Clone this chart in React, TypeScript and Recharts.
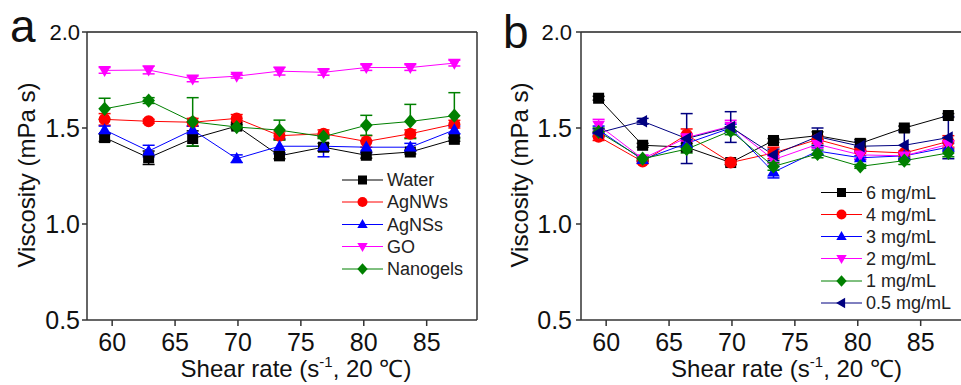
import { ErrorBar, Line, LineChart, ReferenceLine, XAxis, YAxis } from "recharts";

const FONT = "'Liberation Sans', Arial, sans-serif";

// shear rate (s-1), same for both panels
const shearRates = [59.4, 62.9, 66.4, 69.9, 73.3, 76.8, 80.2, 83.7, 87.2];
const xTicks = [60, 65, 70, 75, 80, 85];
const yTicks = [0.5, 1.0, 1.5, 2.0];

// panel a : viscosity of the different fluids
const water = [1.45, 1.345, 1.445, 1.51, 1.355, 1.4, 1.358, 1.375, 1.441];
const waterErr = [0.02, 0.035, 0.04, 0.01, 0.015, 0.02, 0.015, 0.01, 0.01];
const agNWs = [1.545, 1.535, 1.53, 1.55, 1.46, 1.47, 1.43, 1.47, 1.52];
const agNWsErr = [0.03, 0.01, 0.02, 0.02, 0.02, 0.02, 0.03, 0.02, 0.02];
const agNSs = [1.49, 1.38, 1.49, 1.34, 1.405, 1.405, 1.4, 1.4, 1.49];
const agNSsErr = [0.02, 0.03, 0.02, 0.02, 0.04, 0.055, 0.03, 0.02, 0.02];
const go = [1.8, 1.802, 1.756, 1.77, 1.796, 1.79, 1.815, 1.815, 1.838];
const goErr = [0.015, 0.02, 0.015, 0.01, 0.02, 0.015, 0.015, 0.015, 0.015];
const nanogels = [1.6, 1.643, 1.532, 1.505, 1.489, 1.455, 1.514, 1.534, 1.564];
const nanogelsErr = [0.055, 0.015, 0.126, 0.01, 0.052, 0.01, 0.052, 0.089, 0.12];

// panel b : nanogel concentration
const mg6 = [1.655, 1.41, 1.4, 1.32, 1.435, 1.46, 1.42, 1.5, 1.565];
const mg6Err = [0.01, 0.01, 0.02, 0.01, 0.01, 0.02, 0.02, 0.01, 0.01];
const mg4 = [1.455, 1.325, 1.465, 1.32, 1.37, 1.44, 1.38, 1.37, 1.43];
const mg4Err = [0.02, 0.01, 0.03, 0.01, 0.03, 0.02, 0.01, 0.01, 0.03];
const mg3 = [1.49, 1.335, 1.42, 1.5, 1.27, 1.38, 1.345, 1.355, 1.4];
const mg3Err = [0.02, 0.01, 0.02, 0.02, 0.03, 0.02, 0.01, 0.02, 0.02];
const mg2 = [1.515, 1.34, 1.45, 1.51, 1.335, 1.415, 1.36, 1.355, 1.415];
const mg2Err = [0.03, 0.01, 0.02, 0.03, 0.02, 0.02, 0.02, 0.01, 0.02];
const mg1 = [1.48, 1.34, 1.39, 1.485, 1.3, 1.365, 1.3, 1.33, 1.37];
const mg1Err = [0.02, 0.01, 0.02, 0.02, 0.02, 0.02, 0.01, 0.02, 0.02];
const mg05 = [1.475, 1.535, 1.445, 1.505, 1.36, 1.455, 1.405, 1.41, 1.45];
const mg05Err = [0.02, 0.015, 0.13, 0.08, 0.03, 0.045, 0.025, 0.07, 0.11];

const seriesA = [
  { key: "water", name: "Water", color: "#000000", shape: "square", values: water, errors: waterErr },
  { key: "agnws", name: "AgNWs", color: "#ff0000", shape: "circle", values: agNWs, errors: agNWsErr },
  { key: "agnss", name: "AgNSs", color: "#0000ff", shape: "up", values: agNSs, errors: agNSsErr },
  { key: "go", name: "GO", color: "#ff00ff", shape: "down", values: go, errors: goErr },
  { key: "nanogels", name: "Nanogels", color: "#008000", shape: "diamond", values: nanogels, errors: nanogelsErr },
];

const seriesB = [
  { key: "mg6", name: "6 mg/mL", color: "#000000", shape: "square", values: mg6, errors: mg6Err },
  { key: "mg4", name: "4 mg/mL", color: "#ff0000", shape: "circle", values: mg4, errors: mg4Err },
  { key: "mg3", name: "3 mg/mL", color: "#0000ff", shape: "up", values: mg3, errors: mg3Err },
  { key: "mg2", name: "2 mg/mL", color: "#ff00ff", shape: "down", values: mg2, errors: mg2Err },
  { key: "mg1", name: "1 mg/mL", color: "#008000", shape: "diamond", values: mg1, errors: mg1Err },
  { key: "mg05", name: "0.5 mg/mL", color: "#000080", shape: "left", values: mg05, errors: mg05Err },
];

function buildRows(series: any[]) {
  return shearRates.map((x, i) => {
    const row: any = { x };
    series.forEach((s) => {
      row[s.key] = s.values[i];
      row[s.key + "Err"] = s.errors[i];
    });
    return row;
  });
}

function Marker({ cx, cy, shape, color, r = 5.5 }: any) {
  if (cx == null || cy == null) return null;
  switch (shape) {
    case "square":
      return <rect x={cx - r} y={cy - r} width={2 * r} height={2 * r} fill={color} />;
    case "circle":
      return <circle cx={cx} cy={cy} r={r + 0.5} fill={color} />;
    case "up":
      return <polygon points={`${cx},${cy - r * 1.2} ${cx + r * 1.15},${cy + r * 0.8} ${cx - r * 1.15},${cy + r * 0.8}`} fill={color} />;
    case "down":
      return <polygon points={`${cx},${cy + r * 1.2} ${cx + r * 1.15},${cy - r * 0.8} ${cx - r * 1.15},${cy - r * 0.8}`} fill={color} />;
    case "diamond":
      return <polygon points={`${cx},${cy - r * 1.3} ${cx + r * 1.15},${cy} ${cx},${cy + r * 1.3} ${cx - r * 1.15},${cy}`} fill={color} />;
    default:
      return <polygon points={`${cx - r * 1.2},${cy} ${cx + r * 0.8},${cy - r * 1.15} ${cx + r * 0.8},${cy + r * 1.15}`} fill={color} />;
  }
}

function YTick(props: any) {
  const { x, y, payload } = props;
  const v = payload.value;
  return (
    <text x={x} y={y} dy="0.36em" textAnchor="end" fontSize={v === 2 ? 22 : 25} fontFamily={FONT} fill="#111">
      {v.toFixed(1)}
    </text>
  );
}

function Panel({ series, left, width, yAxisWidth, tickMargin }: any) {
  const rows = buildRows(series);
  return (
    <div style={{ position: "absolute", left, top: 0 }}>
      <LineChart width={width} height={385} data={rows} margin={{ top: 32, right: width - yAxisWidth - 390, left: 0, bottom: 0 }}>
        <XAxis
          type="number"
          dataKey="x"
          domain={[58, 89]}
          ticks={xTicks}
          allowDataOverflow
          height={65}
          tickSize={6}
          tickMargin={7}
          stroke="#333"
          strokeWidth={1.5}
          tick={{ fill: "#111", fontSize: 25, fontFamily: FONT }}
        />
        <YAxis
          type="number"
          domain={[0.5, 2]}
          ticks={yTicks}
          width={yAxisWidth}
          tickSize={5}
          tickMargin={tickMargin}
          stroke="#333"
          strokeWidth={1.5}
          tick={<YTick />}
        />
        <ReferenceLine y={2} stroke="#222" strokeWidth={1.5} />
        <ReferenceLine x={89} stroke="#333" strokeWidth={1.5} />
        {series.map((s: any) => (
          <Line
            key={s.key}
            dataKey={s.key}
            type="linear"
            stroke={s.color}
            strokeWidth={1}
            isAnimationActive={false}
            activeDot={false}
            dot={(p: any) => <Marker key={`${s.key}-${p.index}`} cx={p.cx} cy={p.cy} shape={s.shape} color={s.color} />}
          >
            <ErrorBar dataKey={s.key + "Err"} direction="y" width={6} stroke={s.color} strokeWidth={1.5} isAnimationActive={false} />
          </Line>
        ))}
      </LineChart>
    </div>
  );
}

function LegendBox({ series, x, rows }: any) {
  return (
    <g>
      {series.map((s: any, i: number) => (
        <g key={s.key}>
          <line x1={x} x2={x + 41} y1={rows[i]} y2={rows[i]} stroke={s.color} strokeWidth={1} />
          <Marker cx={x + 20.5} cy={rows[i]} shape={s.shape} color={s.color} r={4.5} />
          <text x={x + 45} y={rows[i]} dy="0.35em" fontSize={18} fontFamily={FONT} fill="#222">
            {s.name}
          </text>
        </g>
      ))}
    </g>
  );
}

function AxisTitles({ yBaseline, xCenter }: any) {
  return (
    <g fontFamily={FONT} fontSize={24} fill="#111">
      <text transform="rotate(-90)" x={-175} y={yBaseline} textAnchor="middle">
        Viscosity (mPa s)
      </text>
      <text x={xCenter} y={377} textAnchor="middle">
        Shear rate (s<tspan dy={-10} fontSize={15}>-1</tspan>
        <tspan dy={10}>, 20 ℃)</tspan>
      </text>
    </g>
  );
}

export default function App() {
  return (
    <div style={{ position: "fixed", left: 0, top: 0, width: 961, height: 385, overflow: "hidden", background: "#fff" }}>
      <Panel series={seriesA} left={0} width={480} yAxisWidth={87} tickMargin={2} />
      <Panel series={seriesB} left={480} width={500} yAxisWidth={101} tickMargin={4} />
      <svg width={961} height={385} style={{ position: "absolute", left: 0, top: 0, pointerEvents: "none" }}>
        <text x={10} y={42} fontSize={46} fontFamily={FONT} fill="#111">a</text>
        <text x={503} y={48} fontSize={46} fontFamily={FONT} fill="#111">b</text>
        <AxisTitles yBaseline={35} xCenter={296} />
        <g transform="translate(480,0)">
          <AxisTitles yBaseline={48} xCenter={306.5} />
        </g>
        <LegendBox series={seriesA} x={342} rows={[180, 202, 224.5, 246.5, 269]} />
        <LegendBox series={seriesB} x={821} rows={[192.5, 214.5, 236.5, 258.5, 281, 303]} />
      </svg>
    </div>
  );
}
